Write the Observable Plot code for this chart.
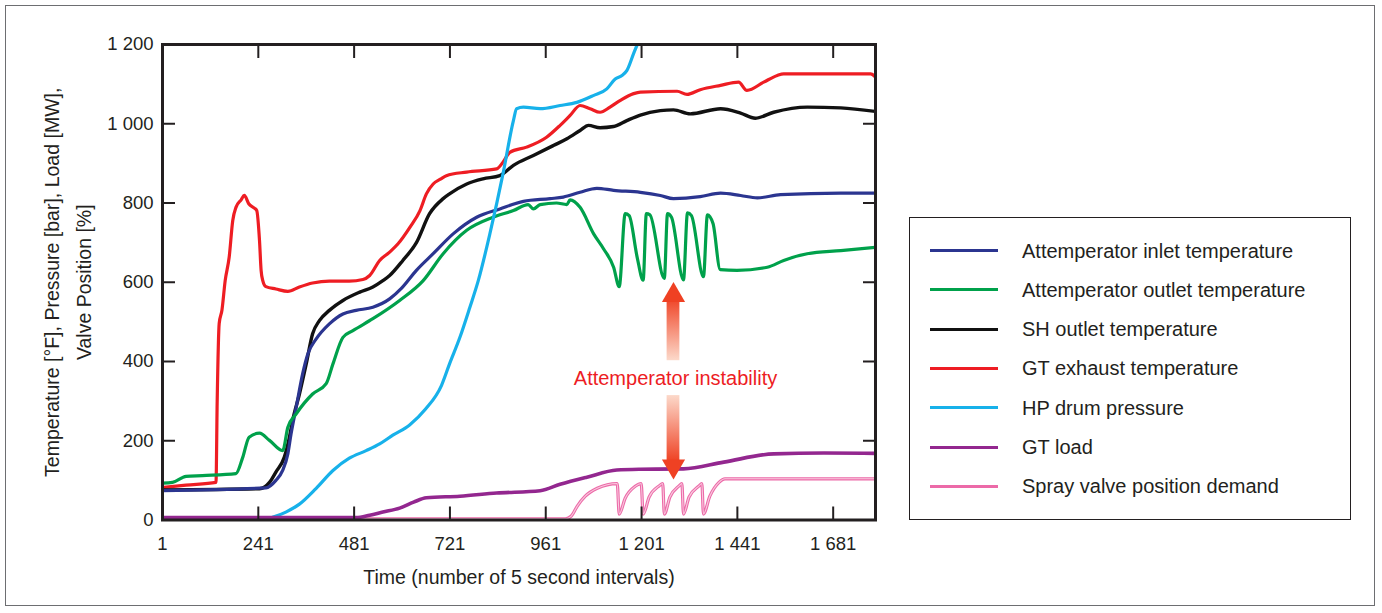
<!DOCTYPE html>
<html>
<head>
<meta charset="utf-8">
<script src="https://cdn.jsdelivr.net/npm/d3@7"></script>
<script src="https://cdn.jsdelivr.net/npm/@observablehq/plot@0.6"></script>
<style>
  body { margin: 0; background: #fff; font-family: "Liberation Sans", Arial, Helvetica, sans-serif; color: #231f20; }
  #page { position: relative; width: 1382px; height: 613px; overflow: hidden; background: #fff; }
  #border { position: absolute; left: 5px; top: 5px; width: 1370px; height: 601px; border: 1.5px solid #6d6e71; box-sizing: border-box; }
  #chart { position: absolute; left: 0; top: 0; }
  #legend { position: absolute; left: 909px; top: 217px; width: 442px; height: 303px; border: 1.5px solid #231f20; box-sizing: border-box; background: #fff; }
  .sw { position: absolute; left: 20px; width: 68px; height: 3px; }
  .lt { position: absolute; left: 112px; height: 24px; line-height: 24px; font-size: 20px; white-space: nowrap; color: #231f20; }
</style>
</head>
<body>
<div id="page">
  <div id="border"></div>
  <div id="chart"></div>
  <div id="legend"></div>
</div>
<script>
// ---------- data (time in 5-second intervals, value) ----------
const xTicks = [1, 241, 481, 721, 961, 1201, 1441, 1681];
const yTicks = [0, 200, 400, 600, 800, 1000, 1200];

const seriesNames = [
  "Attemperator inlet temperature",
  "Attemperator outlet temperature",
  "SH outlet temperature",
  "GT exhaust temperature",
  "HP drum pressure",
  "GT load",
  "Spray valve position demand"
];
const seriesColors = ["#2b3590", "#00a14b", "#111111", "#ee1d23", "#17b1ea", "#93278f", "#ec6aa8"];

const inletTemp = [[1,74],[260,81],[285,100],[302,125],[315,167],[323,217],[336,285],[352,369],[365,419],[386,457],[419,495],[453,520],[486,529],[528,537],[570,558],[600,585],[637,630],[679,672],[729,722],[788,764],[846,785],[905,804],[972,811],[1005,815],[1047,827],[1089,837],[1131,832],[1198,827],[1248,819],[1281,811],[1348,816],[1399,825],[1449,819],[1491,813],[1549,821],[1700,825],[1787,825]];

const outletTemp = [[1,93],[26,95],[60,110],[101,112],[185,117],[202,158],[218,209],[244,219],[269,201],[302,175],[315,234],[336,268],[377,318],[411,344],[428,394],[453,461],[478,478],[528,508],[595,554],[654,604],[704,672],[763,731],[829,764],[880,781],[917,796],[930,785],[947,796],[988,800],[1014,796],[1022,808],[1047,789],[1081,722],[1106,684],[1131,638],[1145,589],[1160,773],[1170,768],[1190,663],[1205,605],[1213,773],[1222,770],[1258,610],[1266,773],[1276,764],[1306,606],[1316,775],[1326,768],[1356,614],[1366,770],[1380,748],[1398,632],[1440,630],[1516,638],[1557,655],[1616,672],[1700,680],[1787,688]];

const shOutletTemp = [[1,76],[244,79],[269,95],[285,121],[306,158],[319,209],[327,251],[344,318],[361,394],[377,470],[394,503],[419,529],[453,554],[495,575],[528,588],[553,604],[570,617],[603,655],[637,700],[670,773],[704,811],[720,823],[763,848],[804,861],[846,869],[880,895],[930,920],[980,945],[1014,962],[1047,983],[1068,996],[1097,990],[1131,993],[1164,1008],[1198,1022],[1248,1033],[1281,1035],[1323,1025],[1399,1038],[1449,1027],[1486,1014],[1532,1029],[1616,1042],[1700,1040],[1787,1031]];

const exhaustTemp = [[1,82],[60,88],[135,95],[138,300],[143,496],[150,530],[158,604],[168,663],[177,756],[185,789],[198,808],[206,819],[217,798],[231,787],[237,781],[244,705],[248,630],[252,605],[260,589],[285,583],[315,577],[344,588],[377,598],[419,603],[469,603],[503,607],[520,617],[545,655],[570,676],[591,697],[621,739],[646,781],[662,823],[679,848],[697,860],[712,869],[763,878],[838,886],[854,903],[871,928],[913,941],[963,966],[997,996],[1022,1021],[1047,1046],[1072,1038],[1097,1029],[1122,1042],[1148,1059],[1181,1076],[1198,1080],[1290,1082],[1315,1074],[1348,1086],[1399,1097],[1444,1105],[1465,1084],[1507,1105],[1541,1122],[1557,1126],[1775,1126],[1787,1118]];

const drumPressure = [[1,2],[255,2],[280,8],[310,20],[344,40],[386,80],[428,125],[469,156],[511,175],[545,192],[578,214],[620,240],[660,280],[700,340],[720,394],[746,461],[771,537],[792,604],[821,722],[854,874],[880,1008],[888,1038],[905,1042],[947,1038],[997,1046],[1039,1054],[1080,1071],[1114,1088],[1135,1113],[1152,1122],[1164,1134],[1181,1177],[1194,1210],[1205,1245]];

const gtLoad = [[1,6],[486,6],[520,12],[553,20],[595,30],[630,45],[662,56],[746,60],[838,68],[947,74],[997,90],[1064,108],[1139,126],[1198,128],[1306,129],[1407,146],[1532,167],[1658,169],[1787,168]];

const sprayValve = [[1,3],[1010,3],[1025,10],[1040,35],[1060,60],[1090,80],[1140,92],[1145,15],[1160,55],[1185,85],[1200,92],[1205,15],[1220,58],[1245,86],[1254,92],[1258,15],[1272,58],[1295,86],[1302,92],[1306,15],[1320,58],[1345,86],[1352,92],[1356,15],[1372,60],[1395,95],[1410,104],[1787,104]];

// annotation
const noteLabel = "Attemperator instability";
const noteT = 1286, noteV = 358;
const arrowT = 1281, arrowHalfT = 16;
const upBody = [402, 561], upHeadV = 567;
const downBody = [146, 314], downHeadV = 136;

const xTitle = "Time (number of 5 second intervals)";
const yTitle = "Temperature [°F], Pressure [bar], Load [MW],\nValve Position [%]";

// ---------- chart ----------
const W = 1382, H = 613, mL = 162, mR = 507, mT = 44, mB = 93.5;
const plotW = W - mL - mR, plotH = H - mT - mB;
const ink = "#231f20";
const fmt = d => d >= 1000 ? `${Math.floor(d / 1000)} ${String(d % 1000).padStart(3, "0")}` : `${d}`;
const rows = arr => arr.map(([t, v]) => ({t, v}));
const line = (arr, color, w) => Plot.line(rows(arr), {x: "t", y: "v", stroke: color, strokeWidth: w, clip: true, curve: "monotone-x", strokeLinejoin: "round", strokeLinecap: "round"});

const svg = Plot.plot({
  width: W, height: H,
  marginLeft: mL, marginRight: mR, marginTop: mT, marginBottom: mB,
  x: {domain: [1, 1787]},
  y: {domain: [0, 1200]},
  style: {fontFamily: '"Liberation Sans", Arial, Helvetica, sans-serif', color: ink, background: "transparent", overflow: "visible"},
  marks: [
    line(exhaustTemp, seriesColors[3], 3.2),
    line(shOutletTemp, seriesColors[2], 3.4),
    line(inletTemp, seriesColors[0], 3.2),
    line(outletTemp, seriesColors[1], 3.2),
    line(drumPressure, seriesColors[4], 3.2),
    line(sprayValve, seriesColors[6], 3.2),
    line(sprayValve, "#f9c9de", 1.1),
    line(gtLoad, seriesColors[5], 3.6),
    // annotation arrows
    Plot.rect([{x1: arrowT - arrowHalfT, x2: arrowT + arrowHalfT, y1: upBody[0], y2: upBody[1]}], {x1: "x1", x2: "x2", y1: "y1", y2: "y2", fill: "url(#gradUp)"}),
    Plot.dot([{t: arrowT, v: upHeadV}], {x: "t", y: "v", symbol: "triangle", r: 8.6, fill: "#ef4123", stroke: "none"}),
    Plot.rect([{x1: arrowT - arrowHalfT, x2: arrowT + arrowHalfT, y1: downBody[0], y2: downBody[1]}], {x1: "x1", x2: "x2", y1: "y1", y2: "y2", fill: "url(#gradDown)"}),
    Plot.dot([{t: arrowT, v: downHeadV}], {x: "t", y: "v", symbol: "triangle", rotate: 180, r: 8.6, fill: "#ef4123", stroke: "none"}),
    Plot.text([noteLabel], {x: () => noteT, y: () => noteV, text: d => d, fill: "#ed1c24", fontSize: 20, textAnchor: "middle", lineAnchor: "middle"}),
    // inward ticks on all four sides
    Plot.tickX(xTicks, {x: d => d, insetTop: plotH - 13, stroke: ink, strokeWidth: 2}),
    Plot.tickX(xTicks, {x: d => d, insetBottom: plotH - 14, stroke: ink, strokeWidth: 2}),
    Plot.tickY(yTicks, {y: d => d, insetRight: plotW - 13, stroke: ink, strokeWidth: 2}),
    Plot.tickY(yTicks, {y: d => d, insetLeft: plotW - 12, stroke: ink, strokeWidth: 2}),
    Plot.frame({stroke: ink, strokeWidth: 3}),
    // axis labels
    Plot.axisX({ticks: xTicks, tickFormat: fmt, tickSize: 0, tickPadding: 17, fontSize: 18.5, label: null}),
    Plot.axisY({ticks: yTicks, tickFormat: fmt, tickSize: 0, tickPadding: 9, fontSize: 18.5, label: null}),
    Plot.text([xTitle], {frameAnchor: "bottom", dy: 58, text: d => d, fontSize: 19.5, lineAnchor: "middle", fill: ink}),
    Plot.text([yTitle], {frameAnchor: "left", rotate: -90, dx: -98, text: d => d, fontSize: 19.5, lineHeight: 1.65, textAnchor: "middle", lineAnchor: "middle", fill: ink})
  ]
});

const defs = d3.select(svg).insert("defs", ":first-child");
const gUp = defs.append("linearGradient").attr("id", "gradUp").attr("x1", 0).attr("y1", 0).attr("x2", 0).attr("y2", 1);
gUp.append("stop").attr("offset", "0%").attr("stop-color", "#ef4123");
gUp.append("stop").attr("offset", "100%").attr("stop-color", "#fcd9ca");
const gDown = defs.append("linearGradient").attr("id", "gradDown").attr("x1", 0).attr("y1", 0).attr("x2", 0).attr("y2", 1);
gDown.append("stop").attr("offset", "0%").attr("stop-color", "#fcd9ca");
gDown.append("stop").attr("offset", "100%").attr("stop-color", "#ef4123");

document.getElementById("chart").appendChild(svg);

// legend
const legend = document.getElementById("legend");
seriesNames.forEach((name, i) => {
  const cy = 32.5 + i * 39.3;
  const sw = document.createElement("div");
  sw.className = "sw";
  sw.style.top = (cy - 1.5) + "px";
  sw.style.background = seriesColors[i];
  legend.appendChild(sw);
  const tx = document.createElement("div");
  tx.className = "lt";
  tx.style.top = (cy - 12) + "px";
  tx.textContent = name;
  legend.appendChild(tx);
});
</script>
</body>
</html>
